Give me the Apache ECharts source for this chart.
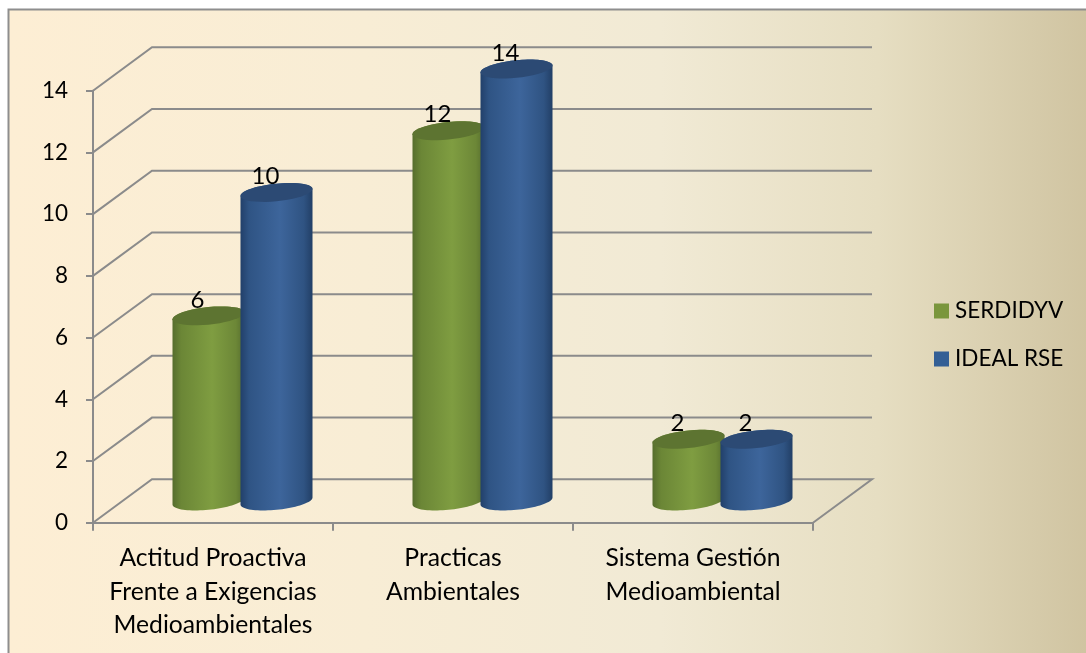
<!DOCTYPE html>
<html><head><meta charset="utf-8">
<script src="https://cdn.jsdelivr.net/npm/echarts@6/dist/echarts.min.js"></script>
<style>html,body{margin:0;padding:0;background:#fff;overflow:hidden}#c{width:1086px;height:653px}</style>
</head><body><div id="c"></div>
<script>
const categories = ['Actitud Proactiva\nFrente a Exigencias\nMedioambientales', 'Practicas\nAmbientales', 'Sistema Gestión\nMedioambiental'];
const serdidyv = [6, 12, 2];
const idealRse = [10, 14, 2];
const yTicks = [0, 2, 4, 6, 8, 10, 12, 14];

const FONT = 'Lato, "Open Sans", sans-serif';
const DX = 59, DY = -43.4, RX = 36, RY = 8.8, SHEAR = 3.5, GRID = '#8b8b8b';

function ellipsePoints(cx, cy, from, to) {
  const pts = [];
  for (let i = 0; i <= 40; i++) {
    const t = from + (to - from) * i / 40;
    pts.push([cx + RX * Math.cos(t), cy + RY * Math.sin(t) - SHEAR * Math.cos(t)]);
  }
  return pts;
}
function cylinder(offset, stops, topColor) {
  return function (params, api) {
    const base = api.coord([api.value(0), 0]);
    const top = api.coord([api.value(0), api.value(1)]);
    const cx = base[0] + offset + DX / 2;
    const yb = base[1] + DY / 2, yt = top[1] + DY / 2;
    const lower = ellipsePoints(cx, yb, Math.PI, 0);
    const upper = ellipsePoints(cx, yt, 0, -Math.PI);
    return {
      type: 'group',
      children: [
        { type: 'polygon', shape: { points: lower.concat(upper) },
          style: { fill: { type: 'linear', x: 0, y: 0, x2: 1, y2: 0, colorStops: stops } } },
        { type: 'polygon', shape: { points: ellipsePoints(cx, yt, 0, 2 * Math.PI) }, style: { fill: topColor } },
        { type: 'text', x: cx - 11, y: yt - 16,
          style: { text: String(api.value(1)), fill: '#000', font: '24px ' + FONT, align: 'center', verticalAlign: 'middle' } }
      ]
    };
  };
}
const greenStops = [
  { offset: 0, color: '#566d2d' }, { offset: 0.12, color: '#6b8636' },
  { offset: 0.55, color: '#7f9d41' }, { offset: 0.88, color: '#6c8737' }, { offset: 1, color: '#566d2d' }];
const blueStops = [
  { offset: 0, color: '#22406a' }, { offset: 0.12, color: '#2f5484' },
  { offset: 0.55, color: '#3d659b' }, { offset: 0.88, color: '#2f5382' }, { offset: 1, color: '#223f66' }];

const chart = echarts.init(document.getElementById('c'), null, { renderer: 'canvas' });
chart.setOption({
  animation: false,
  graphic: [{
    type: 'rect', z: -100, silent: true,
    shape: { x: 8.5, y: 9.5, width: 1200, height: 800 },
    style: {
      stroke: '#8e8e8e', lineWidth: 2,
      fill: { type: 'linear', x: 0, y: 0, x2: 1086 / 1200, y2: 0, colorStops: [
        { offset: 0, color: '#fdeed4' }, { offset: 0.33, color: '#f8edd5' },
        { offset: 0.6, color: '#f1ead5' }, { offset: 0.8, color: '#e6dec2' }, { offset: 1, color: '#cfc3a0' }] }
    }
  }],
  grid: { left: 93, top: 90.7, width: 720, height: 432 },
  legend: {
    orient: 'vertical', left: 934, top: 296, padding: 0, itemWidth: 15, itemHeight: 15, itemGap: 18,
    icon: 'rect', selectedMode: false, data: ['SERDIDYV', 'IDEAL RSE'],
    textStyle: { fontFamily: FONT, fontSize: 22.5, color: '#000', padding: [0, 0, 0, 1], lineHeight: 30 }
  },
  xAxis: {
    type: 'category', data: categories, boundaryGap: true,
    axisLine: { lineStyle: { color: GRID, width: 2 } },
    axisTick: { show: true, alignWithLabel: false, length: 8, lineStyle: { color: GRID, width: 2 } },
    axisLabel: { color: '#000', fontFamily: FONT, fontSize: 24.7, lineHeight: 33.5, margin: 19, interval: 0 },
    splitLine: { show: false }
  },
  yAxis: {
    type: 'value', min: 0, max: 14, interval: 2,
    axisLine: { show: true, lineStyle: { color: GRID, width: 2 } },
    axisTick: { show: true, length: 7, lineStyle: { color: GRID, width: 2 } },
    axisLabel: { color: '#000', fontFamily: FONT, fontSize: 22.5, margin: 25, padding: [2, 0, 0, 0] },
    splitLine: { show: false }
  },
  series: [
    {
      name: 'walls', type: 'custom', silent: true, z: 1, clip: false,
      encode: { x: 0, y: 1 },
      data: yTicks.map(v => [0, v]),
      renderItem(params, api) {
        const cs = params.coordSys;
        const y = api.coord([0, api.value(1)])[1];
        const pts = [[cs.x, y], [cs.x + DX, y + DY], [cs.x + cs.width + DX, y + DY]];
        if (api.value(1) === 0) pts.push([cs.x + cs.width, y]);
        return { type: 'polyline', shape: { points: pts }, style: { stroke: GRID, lineWidth: 2, fill: null } };
      }
    },
    {
      name: 'SERDIDYV', type: 'custom', z: 3, clip: false, silent: true,
      itemStyle: { color: '#7a963c' },
      encode: { x: 0, y: 1 },
      data: serdidyv.map((v, i) => [i, v]),
      renderItem: cylinder(-34, greenStops, '#5d7431')
    },
    {
      name: 'IDEAL RSE', type: 'custom', z: 4, clip: false, silent: true,
      itemStyle: { color: '#335f95' },
      encode: { x: 0, y: 1 },
      data: idealRse.map((v, i) => [i, v]),
      renderItem: cylinder(34, blueStops, '#2c4a74')
    }
  ]
});
</script></body></html>
